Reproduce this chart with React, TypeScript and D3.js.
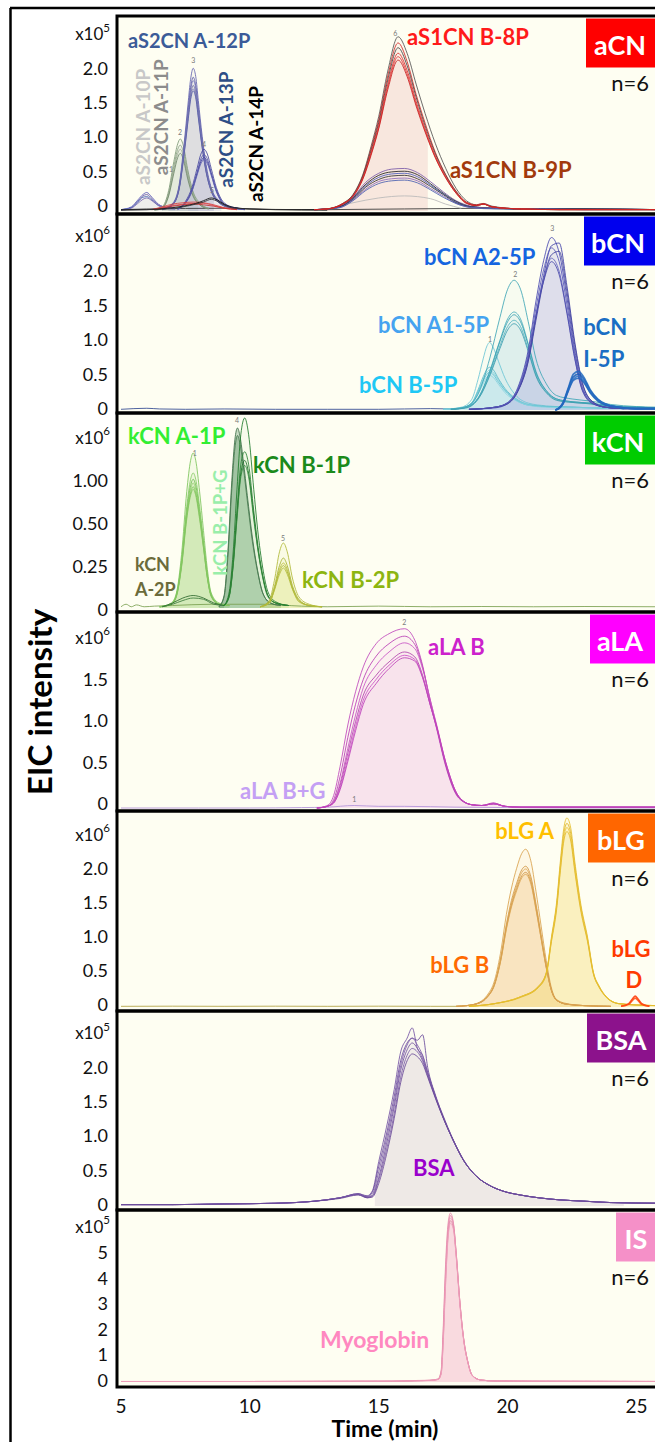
import React from 'react';
import * as d3 from 'd3';

const WIDTH = 655;
const HEIGHT = 1442;
const PLOT_LEFT = 117;
const PLOT_RIGHT = 660;
const BG = '#fefef2';
const FONT = "Lato, 'Open Sans', sans-serif";

const timeTicks = [5, 10, 15, 20, 25];

/* ---------------- aCN (x10^5) ---------------- */
const aCNTicks = ['0', '0.5', '1.0', '1.5', '2.0'];

const a10Time = [5.0, 5.4, 5.65, 5.85, 6.0, 6.2, 6.45, 6.8, 7.1];
const a10Reps = [
  [0.02, 0.06, 0.16, 0.24, 0.27, 0.2, 0.1, 0.05, 0.04],
  [0.02, 0.05, 0.14, 0.22, 0.24, 0.18, 0.09, 0.05, 0.04],
  [0.02, 0.05, 0.13, 0.2, 0.21, 0.16, 0.08, 0.04, 0.03],
  [0.01, 0.04, 0.11, 0.17, 0.19, 0.15, 0.08, 0.04, 0.03],
];

const a11Time = [6.3, 6.6, 6.85, 7.05, 7.2, 7.3, 7.42, 7.58, 7.78, 8.05, 8.4];
const a11Reps = [
  [0.02, 0.06, 0.3, 0.72, 0.98, 1.05, 0.95, 0.62, 0.3, 0.12, 0.04],
  [0.02, 0.05, 0.26, 0.65, 0.9, 0.96, 0.86, 0.56, 0.27, 0.1, 0.04],
  [0.02, 0.05, 0.24, 0.6, 0.84, 0.9, 0.8, 0.52, 0.25, 0.1, 0.03],
  [0.01, 0.04, 0.22, 0.55, 0.78, 0.84, 0.75, 0.48, 0.23, 0.09, 0.03],
];

const a12Time = [6.6, 7.0, 7.25, 7.45, 7.6, 7.7, 7.8, 7.9, 8.0, 8.15, 8.3, 8.5, 8.8, 9.2, 9.8];
const a12Reps = [
  [0.03, 0.11, 0.37, 0.99, 1.56, 1.92, 2.08, 1.96, 1.61, 1.09, 0.68, 0.34, 0.15, 0.06, 0.03],
  [0.03, 0.1, 0.34, 0.92, 1.46, 1.8, 1.95, 1.83, 1.51, 1.02, 0.63, 0.32, 0.14, 0.06, 0.03],
  [0.03, 0.1, 0.33, 0.9, 1.42, 1.76, 1.9, 1.79, 1.47, 1.0, 0.62, 0.31, 0.13, 0.06, 0.03],
  [0.02, 0.09, 0.32, 0.87, 1.37, 1.69, 1.83, 1.72, 1.42, 0.96, 0.59, 0.3, 0.13, 0.05, 0.03],
  [0.02, 0.09, 0.31, 0.85, 1.33, 1.65, 1.78, 1.67, 1.38, 0.93, 0.58, 0.29, 0.12, 0.05, 0.02],
  [0.02, 0.09, 0.31, 0.83, 1.31, 1.62, 1.75, 1.65, 1.36, 0.92, 0.57, 0.29, 0.12, 0.05, 0.02],
];

const a13Time = [7.2, 7.5, 7.75, 7.95, 8.1, 8.22, 8.35, 8.5, 8.7, 8.95, 9.3, 9.8];
const a13Reps = [
  [0.03, 0.14, 0.34, 0.62, 0.83, 0.9, 0.83, 0.62, 0.34, 0.14, 0.06, 0.03],
  [0.03, 0.12, 0.31, 0.56, 0.76, 0.82, 0.76, 0.56, 0.31, 0.12, 0.05, 0.03],
  [0.03, 0.12, 0.29, 0.54, 0.72, 0.78, 0.72, 0.54, 0.29, 0.12, 0.05, 0.03],
  [0.02, 0.11, 0.28, 0.52, 0.69, 0.75, 0.69, 0.52, 0.28, 0.11, 0.05, 0.02],
];

const a14Time = [5.0, 6.0, 6.8, 7.4, 7.9, 8.2, 8.5, 8.75, 9.0, 9.4, 10.0, 11.0, 13.0];
const a14Reps = [
  [0.02, 0.02, 0.04, 0.07, 0.11, 0.15, 0.19, 0.16, 0.1, 0.05, 0.03, 0.02, 0.02],
  [0.01, 0.02, 0.03, 0.06, 0.1, 0.13, 0.17, 0.14, 0.09, 0.04, 0.03, 0.02, 0.01],
];

const aS1LowTime = [6.2, 6.6, 7.0, 7.4, 7.8, 8.2, 8.6, 9.0, 9.5];
const aS1LowReps = [
  [0.02, 0.06, 0.1, 0.12, 0.13, 0.12, 0.09, 0.05, 0.03],
  [0.02, 0.05, 0.08, 0.1, 0.11, 0.11, 0.08, 0.04, 0.02],
  [0.02, 0.04, 0.07, 0.09, 0.1, 0.09, 0.07, 0.04, 0.02],
];

const b8Time = [12.5, 13.0, 13.6, 14.0, 14.4, 14.7, 15.0, 15.35, 15.75, 16.1, 16.45, 16.8, 17.2, 17.6, 18.0, 18.4, 18.8, 19.05, 19.4, 20.5, 22.0, 24.0, 25.9];
const b8Reps = [
  [0.02, 0.03, 0.11, 0.24, 0.55, 0.94, 1.38, 2.04, 2.54, 2.3, 1.85, 1.42, 0.98, 0.62, 0.33, 0.15, 0.09, 0.11, 0.07, 0.03, 0.02, 0.02, 0.02],
  [0.02, 0.03, 0.11, 0.23, 0.53, 0.91, 1.33, 1.97, 2.45, 2.18, 1.7, 1.28, 0.85, 0.53, 0.29, 0.13, 0.09, 0.11, 0.06, 0.03, 0.02, 0.02, 0.02],
  [0.02, 0.03, 0.1, 0.23, 0.52, 0.88, 1.29, 1.91, 2.38, 2.12, 1.66, 1.24, 0.83, 0.52, 0.28, 0.12, 0.08, 0.1, 0.06, 0.03, 0.02, 0.02, 0.02],
  [0.02, 0.03, 0.1, 0.22, 0.5, 0.85, 1.25, 1.85, 2.3, 2.05, 1.6, 1.2, 0.8, 0.5, 0.27, 0.12, 0.08, 0.1, 0.06, 0.03, 0.02, 0.02, 0.02],
  [0.02, 0.03, 0.1, 0.22, 0.49, 0.83, 1.22, 1.81, 2.25, 2.0, 1.56, 1.17, 0.78, 0.49, 0.26, 0.12, 0.08, 0.1, 0.06, 0.03, 0.02, 0.02, 0.02],
  [0.02, 0.03, 0.1, 0.21, 0.48, 0.81, 1.2, 1.77, 2.2, 1.96, 1.53, 1.15, 0.77, 0.48, 0.26, 0.11, 0.08, 0.1, 0.06, 0.03, 0.02, 0.02, 0.02],
];

const b9Time = [12.5, 13.0, 13.5, 14.0, 14.5, 15.0, 15.5, 16.0, 16.5, 17.0, 17.5, 18.0, 18.6, 19.5, 21.0, 23.0, 25.9];
const b9Reps = [
  [0.02, 0.03, 0.07, 0.2, 0.42, 0.55, 0.61, 0.62, 0.56, 0.43, 0.28, 0.15, 0.07, 0.04, 0.03, 0.03, 0.02],
  [0.02, 0.03, 0.06, 0.19, 0.39, 0.52, 0.57, 0.58, 0.53, 0.4, 0.26, 0.14, 0.06, 0.04, 0.03, 0.03, 0.02],
  [0.02, 0.03, 0.06, 0.18, 0.37, 0.49, 0.54, 0.55, 0.5, 0.38, 0.25, 0.13, 0.06, 0.04, 0.03, 0.03, 0.02],
  [0.02, 0.03, 0.06, 0.17, 0.35, 0.46, 0.51, 0.52, 0.47, 0.36, 0.24, 0.12, 0.06, 0.04, 0.03, 0.03, 0.02],
  [0.02, 0.03, 0.05, 0.16, 0.32, 0.43, 0.47, 0.48, 0.44, 0.33, 0.22, 0.11, 0.05, 0.04, 0.03, 0.02, 0.02],
  [0.02, 0.03, 0.05, 0.15, 0.3, 0.4, 0.44, 0.45, 0.41, 0.31, 0.2, 0.11, 0.05, 0.03, 0.03, 0.02, 0.02],
];

const aCNGreyTime = [13.0, 14.0, 15.0, 16.0, 17.0, 17.6, 18.2];
const aCNGreyReps = [[0.03, 0.12, 0.19, 0.22, 0.18, 0.1, 0.04]];

const aCNBaseTime = [5, 6, 9, 10, 12, 13, 19, 20, 22, 25.9];
const aCNBaseReps = [[0.02, 0.03, 0.04, 0.03, 0.02, 0.02, 0.04, 0.03, 0.03, 0.02]];

const aCNLabels: [string, number, number][] = [
  ['aS2CN A-12P', 5.27, 2.38],
  ['aS1CN B-8P', 16.1, 2.42],
  ['aS1CN B-9P', 17.76, 0.48],
];
const aCNVertical: [string, number, number][] = [
  ['aS2CN A-10P', 6.13, 0.38],
  ['aS2CN A-11P', 6.82, 0.52],
  ['aS2CN A-13P', 9.35, 0.34],
  ['aS2CN A-14P', 10.51, 0.13],
];
const aCNPeakNums: [string, number, number][] = [
  ['1', 6.94, 0.57], ['2', 7.29, 1.11], ['3', 7.8, 2.16], ['4', 8.22, 0.93], ['5', 8.53, 0.26], ['6', 15.64, 2.55],
];

/* ---------------- bCN (x10^6) ---------------- */
const bCNTicks = ['0', '0.5', '1.0', '1.5', '2.0'];

const bB5Time = [17.5, 18.2, 18.6, 18.85, 19.05, 19.2, 19.3, 19.45, 19.65, 19.9, 20.3, 20.8, 21.5, 22.5, 23.5, 24.5];
const bB5Reps = [
  [0.01, 0.04, 0.15, 0.44, 0.74, 0.93, 0.98, 0.9, 0.7, 0.46, 0.22, 0.1, 0.06, 0.04, 0.03, 0.02],
  [0.01, 0.03, 0.1, 0.29, 0.48, 0.59, 0.62, 0.58, 0.45, 0.31, 0.17, 0.08, 0.05, 0.04, 0.03, 0.02],
  [0.01, 0.03, 0.1, 0.27, 0.45, 0.55, 0.58, 0.54, 0.43, 0.29, 0.16, 0.08, 0.05, 0.04, 0.03, 0.02],
  [0.01, 0.03, 0.09, 0.26, 0.42, 0.52, 0.55, 0.51, 0.4, 0.28, 0.15, 0.07, 0.05, 0.04, 0.03, 0.02],
  [0.01, 0.02, 0.08, 0.23, 0.38, 0.48, 0.5, 0.47, 0.37, 0.25, 0.14, 0.07, 0.04, 0.03, 0.03, 0.02],
];

const bA1Time = [17.8, 18.4, 18.9, 19.3, 19.7, 20.0, 20.25, 20.5, 20.8, 21.1, 21.5, 21.9, 22.5, 23.2, 24.0, 25.0, 25.9];
const bA1Reps = [
  [0.01, 0.05, 0.27, 0.74, 1.34, 1.75, 1.88, 1.75, 1.28, 0.74, 0.38, 0.21, 0.16, 0.13, 0.08, 0.05, 0.04],
  [0.01, 0.04, 0.2, 0.56, 1.01, 1.32, 1.42, 1.32, 0.96, 0.56, 0.28, 0.16, 0.12, 0.1, 0.06, 0.04, 0.03],
  [0.01, 0.04, 0.2, 0.54, 0.99, 1.28, 1.38, 1.28, 0.94, 0.54, 0.28, 0.16, 0.12, 0.1, 0.06, 0.04, 0.03],
  [0.01, 0.04, 0.19, 0.51, 0.93, 1.21, 1.3, 1.21, 0.88, 0.51, 0.26, 0.15, 0.11, 0.09, 0.06, 0.04, 0.03],
  [0.01, 0.03, 0.18, 0.49, 0.89, 1.16, 1.25, 1.16, 0.85, 0.49, 0.25, 0.14, 0.11, 0.09, 0.05, 0.04, 0.03],
];

const bA2Time = [18.5, 19.5, 20.0, 20.4, 20.8, 21.1, 21.4, 21.7, 22.0, 22.3, 22.6, 22.9, 23.3, 23.8, 24.5, 25.9];
const bA2Reps = [
  [0.01, 0.04, 0.11, 0.33, 0.87, 1.58, 2.17, 2.5, 2.28, 1.63, 0.87, 0.33, 0.11, 0.04, 0.02, 0.02],
  [0.01, 0.04, 0.1, 0.28, 0.72, 1.35, 1.95, 2.38, 2.42, 1.8, 1.0, 0.4, 0.12, 0.04, 0.02, 0.02],
  [0.01, 0.04, 0.1, 0.31, 0.82, 1.48, 2.04, 2.35, 2.15, 1.53, 0.82, 0.31, 0.1, 0.04, 0.02, 0.02],
  [0.01, 0.04, 0.09, 0.27, 0.7, 1.3, 1.88, 2.25, 2.3, 1.72, 0.95, 0.38, 0.12, 0.04, 0.02, 0.02],
  [0.01, 0.04, 0.1, 0.29, 0.77, 1.39, 1.91, 2.2, 2.01, 1.43, 0.77, 0.29, 0.1, 0.04, 0.02, 0.02],
  [0.01, 0.03, 0.09, 0.28, 0.75, 1.36, 1.87, 2.15, 1.96, 1.4, 0.75, 0.28, 0.09, 0.04, 0.02, 0.02],
];

const bI5Time = [21.85, 22.0, 22.15, 22.35, 22.55, 22.75, 22.95, 23.2, 23.5, 23.8, 24.3, 25.0, 25.9];
const bI5Reps = [
  [0.0, 0.03, 0.11, 0.32, 0.52, 0.56, 0.48, 0.3, 0.16, 0.09, 0.04, 0.02, 0.02],
  [0.0, 0.03, 0.1, 0.3, 0.48, 0.52, 0.45, 0.28, 0.15, 0.08, 0.04, 0.02, 0.02],
  [0.0, 0.03, 0.09, 0.28, 0.45, 0.49, 0.42, 0.26, 0.14, 0.08, 0.04, 0.02, 0.02],
  [0.0, 0.02, 0.09, 0.27, 0.43, 0.46, 0.4, 0.25, 0.13, 0.07, 0.04, 0.02, 0.02],
];

const bCNBaseTime = [5, 5.5, 6.0, 6.5, 7.5, 9, 11, 13, 15, 17, 18];
const bCNBaseReps = [[0.01, 0.02, 0.025, 0.015, 0.01, 0.015, 0.01, 0.01, 0.01, 0.02, 0.01]];

const bCNLabels: [string, number, number][] = [
  ['bCN A2-5P', 16.76, 2.1],
  ['bCN A1-5P', 14.97, 1.12],
  ['bCN B-5P', 14.23, 0.25],
  ['bCN', 22.93, 1.09],
  ['I-5P', 22.93, 0.62],
];
const bCNPeakNums: [string, number, number][] = [['1', 19.32, 0.99], ['2', 20.3, 1.93], ['3', 21.73, 2.6]];

/* ---------------- kCN (x10^6) ---------------- */
const kCNTicks = ['0', '0.25', '0.50', '1.00'];

const kA1Time = [6.5, 6.95, 7.15, 7.35, 7.55, 7.7, 7.8, 7.9, 8.05, 8.2, 8.35, 8.5, 8.8, 9.2];
const kA1Reps = [
  [0.01, 0.04, 0.12, 0.43, 0.93, 1.18, 1.24, 1.18, 0.93, 0.62, 0.31, 0.12, 0.04, 0.02],
  [0.01, 0.03, 0.11, 0.38, 0.81, 1.03, 1.08, 1.03, 0.81, 0.54, 0.27, 0.11, 0.03, 0.02],
  [0.01, 0.03, 0.1, 0.36, 0.77, 0.98, 1.03, 0.98, 0.77, 0.52, 0.26, 0.1, 0.03, 0.02],
  [0.01, 0.03, 0.1, 0.35, 0.75, 0.95, 1.0, 0.95, 0.75, 0.5, 0.25, 0.1, 0.03, 0.02],
  [0.01, 0.03, 0.1, 0.34, 0.73, 0.92, 0.97, 0.92, 0.73, 0.49, 0.24, 0.1, 0.03, 0.02],
  [0.01, 0.03, 0.09, 0.33, 0.71, 0.9, 0.95, 0.9, 0.71, 0.48, 0.24, 0.09, 0.03, 0.02],
];

const kLowTime = [6.6, 7.0, 7.4, 7.8, 8.2, 8.6, 9.0];
const kLowReps = [
  [0.01, 0.04, 0.08, 0.1, 0.08, 0.04, 0.02],
  [0.01, 0.03, 0.06, 0.08, 0.07, 0.03, 0.02],
];

const kB1GTime = [8.8, 9.0, 9.15, 9.3, 9.42, 9.52, 9.62, 9.75, 9.9, 10.1, 10.3, 10.5, 10.8, 11.2];
const kB1GReps = [
  [0.01, 0.1, 0.46, 1.02, 1.35, 1.44, 1.37, 1.17, 0.9, 0.56, 0.3, 0.12, 0.04, 0.02],
  [0.01, 0.09, 0.42, 0.96, 1.28, 1.38, 1.31, 1.12, 0.86, 0.53, 0.29, 0.12, 0.04, 0.02],
];

const kB1Time = [9.0, 9.2, 9.35, 9.5, 9.65, 9.8, 9.95, 10.15, 10.3, 10.5, 10.7, 11.0, 11.5];
const kB1Reps = [
  [0.02, 0.13, 0.44, 0.95, 1.39, 1.52, 1.39, 0.95, 0.63, 0.32, 0.13, 0.05, 0.02],
  [0.02, 0.1, 0.36, 0.78, 1.15, 1.25, 1.15, 0.78, 0.52, 0.26, 0.1, 0.04, 0.02],
  [0.02, 0.1, 0.34, 0.74, 1.08, 1.18, 1.08, 0.74, 0.49, 0.25, 0.1, 0.04, 0.02],
  [0.02, 0.09, 0.33, 0.71, 1.05, 1.14, 1.05, 0.71, 0.48, 0.24, 0.09, 0.04, 0.02],
];

const kB2Time = [10.4, 10.75, 10.95, 11.15, 11.3, 11.45, 11.65, 11.9, 12.3, 12.8];
const kB2Reps = [
  [0.01, 0.06, 0.22, 0.45, 0.52, 0.45, 0.24, 0.09, 0.03, 0.01],
  [0.01, 0.05, 0.17, 0.34, 0.4, 0.34, 0.18, 0.07, 0.02, 0.01],
  [0.01, 0.04, 0.15, 0.31, 0.36, 0.31, 0.16, 0.06, 0.02, 0.01],
  [0.01, 0.04, 0.15, 0.29, 0.34, 0.29, 0.16, 0.06, 0.02, 0.01],
  [0.01, 0.04, 0.14, 0.27, 0.32, 0.27, 0.15, 0.05, 0.02, 0.01],
];

const kCNBaseTime = [5.0, 5.2, 5.4, 5.6, 5.9, 6.3, 7.0, 8.5, 10.5, 12.0, 13.0, 15, 17, 19, 21, 23, 25.9];
const kCNBaseReps = [[0.01, 0.03, 0.01, 0.025, 0.01, 0.015, 0.02, 0.03, 0.03, 0.015, 0.01, 0.015, 0.01, 0.012, 0.01, 0.012, 0.01]];

const kCNLabels: [string, number, number][] = [
  ['kCN A-1P', 5.27, 1.31],
  ['kCN B-1P', 10.12, 1.08],
  ['kCN', 5.54, 0.3],
  ['A-2P', 5.54, 0.1],
  ['kCN B-2P', 12.02, 0.16],
];
const kCNVertical: [string, number, number][] = [['kCN B-1P+G', 9.11, 0.26]];
const kCNPeakNums: [string, number, number][] = [['1', 7.86, 1.22], ['4', 9.5, 1.48], ['5', 11.29, 0.54]];

/* ---------------- aLA (x10^6) ---------------- */
const aLATicks = ['0', '0.5', '1.0', '1.5'];

const aLATime = [12.6, 13.0, 13.25, 13.5, 13.8, 14.1, 14.4, 14.9, 15.4, 16.0, 16.4, 16.7, 17.0, 17.25, 17.6, 18.1, 18.6, 19.0, 19.45, 19.9, 20.5, 22, 25.9];
const aLAReps = [
  [0.0, 0.03, 0.15, 0.5, 1.0, 1.4, 1.7, 1.98, 2.1, 2.16, 2.02, 1.72, 1.27, 0.95, 0.5, 0.12, 0.04, 0.03, 0.06, 0.02, 0.01, 0.01, 0.01],
  [0.0, 0.02, 0.1, 0.38, 0.85, 1.25, 1.55, 1.83, 1.98, 2.07, 1.97, 1.7, 1.3, 0.98, 0.52, 0.13, 0.04, 0.03, 0.06, 0.02, 0.01, 0.01, 0.01],
  [0.0, 0.02, 0.08, 0.3, 0.72, 1.12, 1.45, 1.72, 1.88, 1.99, 1.92, 1.68, 1.3, 1.0, 0.55, 0.14, 0.04, 0.03, 0.05, 0.02, 0.01, 0.01, 0.01],
  [0.0, 0.02, 0.07, 0.27, 0.66, 1.04, 1.36, 1.6, 1.76, 1.88, 1.82, 1.6, 1.24, 0.96, 0.52, 0.13, 0.04, 0.03, 0.05, 0.02, 0.01, 0.01, 0.01],
  [0.0, 0.02, 0.06, 0.24, 0.6, 0.98, 1.3, 1.55, 1.72, 1.84, 1.79, 1.58, 1.24, 0.97, 0.54, 0.14, 0.04, 0.03, 0.05, 0.02, 0.01, 0.01, 0.01],
  [0.0, 0.02, 0.06, 0.22, 0.56, 0.93, 1.25, 1.5, 1.68, 1.81, 1.77, 1.57, 1.24, 0.98, 0.55, 0.14, 0.04, 0.03, 0.05, 0.02, 0.01, 0.01, 0.01],
];

const aLAGTime = [5.0, 8.0, 10.0, 12.0, 13.0, 14.05, 15, 16, 18, 20, 22, 25.9];
const aLAGReps = [[0.0, 0.0, 0.0, 0.005, 0.01, 0.03, 0.02, 0.02, 0.01, 0.005, 0.0, 0.0]];

const aLALabels: [string, number, number][] = [['aLA B', 16.91, 1.84], ['aLA B+G', 9.62, 0.11]];
const aLAPeakNums: [string, number, number][] = [['2', 15.99, 2.2], ['1', 14.05, 0.07]];

/* ---------------- bLG (x10^6) ---------------- */
const bLGTicks = ['0', '0.5', '1.0', '1.5', '2.0'];

const lgBTime = [18.0, 18.4, 18.9, 19.2, 19.5, 19.75, 19.95, 20.15, 20.35, 20.55, 20.7, 20.9, 21.1, 21.3, 21.5, 21.7, 21.9, 22.3, 23.0, 24.0];
const lgBReps = [
  [0.01, 0.02, 0.07, 0.17, 0.4, 0.85, 1.36, 1.75, 2.04, 2.26, 2.32, 2.15, 1.7, 1.19, 0.68, 0.28, 0.11, 0.05, 0.02, 0.01],
  [0.01, 0.02, 0.06, 0.15, 0.35, 0.76, 1.21, 1.57, 1.82, 2.02, 2.07, 1.92, 1.52, 1.06, 0.61, 0.25, 0.1, 0.04, 0.02, 0.01],
  [0.01, 0.02, 0.06, 0.15, 0.35, 0.74, 1.19, 1.53, 1.78, 1.98, 2.03, 1.88, 1.49, 1.04, 0.59, 0.25, 0.1, 0.04, 0.02, 0.01],
  [0.01, 0.02, 0.06, 0.14, 0.34, 0.72, 1.16, 1.5, 1.74, 1.93, 1.98, 1.84, 1.45, 1.01, 0.58, 0.24, 0.1, 0.04, 0.02, 0.01],
  [0.01, 0.02, 0.06, 0.14, 0.33, 0.71, 1.14, 1.47, 1.71, 1.9, 1.95, 1.81, 1.43, 1.0, 0.57, 0.24, 0.1, 0.04, 0.02, 0.01],
];

const lgATime = [18.5, 19.5, 20.5, 21.2, 21.5, 21.7, 21.9, 22.05, 22.18, 22.3, 22.45, 22.6, 22.85, 23.1, 23.33, 23.55, 23.83, 24.3, 25.0, 25.9];
const lgAReps = [
  [0.01, 0.05, 0.15, 0.31, 0.51, 1.03, 1.54, 2.16, 2.63, 2.78, 2.63, 2.16, 1.49, 1.03, 0.51, 0.31, 0.15, 0.05, 0.03, 0.02],
  [0.01, 0.05, 0.15, 0.3, 0.5, 1.0, 1.5, 2.1, 2.55, 2.7, 2.55, 2.1, 1.45, 1.0, 0.5, 0.3, 0.15, 0.05, 0.03, 0.02],
  [0.01, 0.05, 0.15, 0.29, 0.49, 0.98, 1.47, 2.05, 2.49, 2.64, 2.49, 2.05, 1.42, 0.98, 0.49, 0.29, 0.15, 0.05, 0.03, 0.02],
  [0.01, 0.05, 0.14, 0.29, 0.48, 0.96, 1.43, 2.01, 2.44, 2.58, 2.44, 2.01, 1.39, 0.96, 0.48, 0.29, 0.14, 0.05, 0.03, 0.02],
];

const lgDTime = [24.4, 24.7, 24.85, 24.95, 25.05, 25.2, 25.5];
const lgDReps = [
  [0.01, 0.05, 0.12, 0.16, 0.12, 0.05, 0.01],
  [0.01, 0.04, 0.1, 0.13, 0.1, 0.04, 0.01],
];

const bLGBaseTime = [5, 7, 9, 11, 13, 15, 17, 18];
const bLGBaseReps = [[0.01, 0.012, 0.01, 0.012, 0.01, 0.012, 0.01, 0.01]];

const bLGLabels: [string, number, number][] = [
  ['bLG A', 19.52, 2.47],
  ['bLG B', 17.0, 0.5],
  ['bLG', 24.03, 0.74],
];
const bLGCentered: [string, number, number][] = [['D', 24.9, 0.28]];

/* ---------------- BSA (x10^5) ---------------- */
const BSATicks = ['0', '0.5', '1.0', '1.5', '2.0'];

const bsaTime = [5.0, 7.0, 9.0, 11.0, 12.5, 13.5, 14.2, 14.55, 14.75, 15.0, 15.3, 15.6, 15.85, 16.1, 16.3, 16.5, 16.7, 16.9, 17.2, 17.55, 17.9, 18.3, 18.8, 19.3, 19.8, 20.5, 21.2, 22.0, 23.0, 24.0, 25.9];
const bsaReps = [
  [0.02, 0.02, 0.03, 0.04, 0.07, 0.12, 0.18, 0.15, 0.22, 0.65, 1.15, 1.7, 2.25, 2.45, 2.6, 2.3, 2.2, 1.95, 1.6, 1.25, 0.95, 0.66, 0.43, 0.3, 0.22, 0.16, 0.12, 0.09, 0.07, 0.05, 0.04],
  [0.02, 0.02, 0.03, 0.04, 0.07, 0.12, 0.18, 0.14, 0.2, 0.58, 1.05, 1.6, 2.12, 2.38, 2.45, 2.42, 2.5, 2.02, 1.62, 1.27, 0.96, 0.67, 0.43, 0.3, 0.22, 0.16, 0.12, 0.09, 0.07, 0.05, 0.04],
  [0.02, 0.02, 0.03, 0.04, 0.07, 0.12, 0.17, 0.13, 0.17, 0.5, 0.98, 1.52, 2.05, 2.35, 2.45, 2.35, 2.2, 1.95, 1.6, 1.25, 0.95, 0.66, 0.43, 0.3, 0.22, 0.16, 0.12, 0.09, 0.07, 0.05, 0.04],
  [0.02, 0.02, 0.03, 0.04, 0.07, 0.12, 0.17, 0.13, 0.15, 0.42, 0.9, 1.45, 1.98, 2.28, 2.38, 2.3, 2.15, 1.92, 1.59, 1.25, 0.95, 0.66, 0.43, 0.3, 0.22, 0.16, 0.12, 0.09, 0.07, 0.05, 0.04],
  [0.02, 0.02, 0.03, 0.04, 0.07, 0.12, 0.17, 0.12, 0.14, 0.38, 0.82, 1.35, 1.88, 2.2, 2.3, 2.25, 2.12, 1.9, 1.58, 1.24, 0.95, 0.66, 0.43, 0.3, 0.22, 0.16, 0.12, 0.09, 0.07, 0.05, 0.04],
  [0.02, 0.02, 0.03, 0.04, 0.07, 0.11, 0.16, 0.12, 0.13, 0.33, 0.75, 1.28, 1.8, 2.12, 2.22, 2.18, 2.08, 1.88, 1.57, 1.24, 0.95, 0.66, 0.43, 0.3, 0.22, 0.16, 0.12, 0.09, 0.07, 0.05, 0.04],
];

const BSALabels: [string, number, number][] = [['BSA', 16.33, 0.44]];

/* ---------------- IS (x10^5) ---------------- */
const ISTicks = ['0', '1', '2', '3', '4', '5'];

const myoTime = [5.0, 10.0, 15.5, 16.5, 17.0, 17.3, 17.42, 17.5, 17.58, 17.68, 17.78, 17.9, 18.0, 18.15, 18.3, 18.45, 18.63, 18.95, 19.5, 21.0, 25.9];
const myoReps = [
  [0.02, 0.02, 0.03, 0.06, 0.07, 0.12, 0.45, 2.1, 4.3, 6.1, 6.6, 6.2, 5.1, 3.1, 1.65, 0.82, 0.26, 0.08, 0.04, 0.03, 0.02],
  [0.02, 0.02, 0.03, 0.05, 0.07, 0.11, 0.4, 1.9, 4.0, 5.9, 6.5, 6.15, 5.1, 3.1, 1.65, 0.82, 0.26, 0.08, 0.04, 0.03, 0.02],
  [0.02, 0.02, 0.03, 0.05, 0.06, 0.1, 0.35, 1.7, 3.8, 5.7, 6.4, 6.1, 5.05, 3.1, 1.65, 0.8, 0.25, 0.08, 0.04, 0.03, 0.02],
  [0.02, 0.02, 0.03, 0.05, 0.06, 0.1, 0.32, 1.6, 3.6, 5.6, 6.3, 6.0, 5.0, 3.05, 1.6, 0.8, 0.25, 0.08, 0.04, 0.03, 0.02],
  [0.02, 0.02, 0.03, 0.05, 0.06, 0.1, 0.3, 1.5, 3.5, 5.5, 6.2, 5.95, 4.95, 3.0, 1.6, 0.78, 0.25, 0.08, 0.04, 0.03, 0.02],
];

const ISLabels: [string, number, number][] = [['Myoglobin', 12.72, 1.33]];

/* ---------------- text styling ---------------- */
const labelStyle: Record<string, { color: string; size: number }> = {
  'aS2CN A-12P': { color: '#3b5b98', size: 20 },
  'aS1CN B-8P': { color: '#ff1a1a', size: 22 },
  'aS1CN B-9P': { color: '#a23a0c', size: 22 },
  'aS2CN A-10P': { color: '#c8c8c8', size: 19 },
  'aS2CN A-11P': { color: '#8c8c8c', size: 19 },
  'aS2CN A-13P': { color: '#2d4e86', size: 19 },
  'aS2CN A-14P': { color: '#000000', size: 19 },
  'bCN A2-5P': { color: '#1565e0', size: 22 },
  'bCN A1-5P': { color: '#45a3f0', size: 22 },
  'bCN B-5P': { color: '#1ec8f5', size: 22 },
  'bCN': { color: '#1a6ec4', size: 22 },
  'I-5P': { color: '#1a6ec4', size: 22 },
  'kCN A-1P': { color: '#33ee33', size: 22 },
  'kCN B-1P': { color: '#1b8a1b', size: 22 },
  'kCN B-1P+G': { color: '#99eeaa', size: 18.5 },
  'kCN': { color: '#6b6b3b', size: 18 },
  'A-2P': { color: '#6b6b3b', size: 18 },
  'kCN B-2P': { color: '#8db510', size: 22 },
  'aLA B': { color: '#cc22cc', size: 22 },
  'aLA B+G': { color: '#c4a0f4', size: 22 },
  'bLG A': { color: '#ffbf00', size: 22 },
  'bLG B': { color: '#ff6a00', size: 22 },
  'bLG': { color: '#ff3a00', size: 22 },
  'D': { color: '#ff3a00', size: 22 },
  'BSA': { color: '#9900cc', size: 22 },
  'Myoglobin': { color: '#ff88c0', size: 23 },
};

type Species = {
  times: number[];
  reps: number[][];
  strokes: string[];
  width?: number;
  fill?: string;
  fillOpacity?: number;
  window?: [number, number];
};

type PanelCfg = {
  top: number;
  bottom: number;
  base: number;
  unit: number;
  label0: number;
  step: number;
  ticks: string[];
  exp: string;
  box: string;
  boxColor: string;
  boxX: number;
  boxTextX: number;
  species: Species[];
  labels: [string, number, number][];
  vertical?: [string, number, number][];
  centered?: [string, number, number][];
  nums?: [string, number, number][];
};

const xScale = d3.scaleLinear().domain([5, 25]).range([121, 636.5]);

const panels: PanelCfg[] = [
  {
    top: 16, bottom: 214, base: 211, unit: 68.6, label0: 205, step: 34.3,
    ticks: aCNTicks, exp: '5', box: 'aCN', boxColor: '#ff0000', boxX: 586, boxTextX: 620,
    species: [
      { times: aCNBaseTime, reps: aCNBaseReps, strokes: ['#333333'] },
      { times: aCNGreyTime, reps: aCNGreyReps, strokes: ['#b8b8b8'] },
      { times: a10Time, reps: a10Reps, strokes: ['#5a5ab8', '#6a5aa8', '#4a6ab8', '#7a6ab0'], fill: '#b8b8e0', fillOpacity: 0.05 },
      { times: a11Time, reps: a11Reps, strokes: ['#7f9a78', '#8aa282', '#9aa890', '#708a6a'], fill: '#a8c0a0', fillOpacity: 0.08, window: [6.6, 8.0] },
      { times: a12Time, reps: a12Reps, strokes: ['#6464b0', '#5a5aa8', '#7070b8', '#6a6aa0', '#8080b8', '#5a60a8'], fill: '#b0b0c8', fillOpacity: 0.07, window: [6.85, 8.6] },
      { times: a13Time, reps: a13Reps, strokes: ['#4a4aa0', '#5252a8', '#4040a0', '#6060b0'], fill: '#b0b0d8', fillOpacity: 0.06, window: [7.6, 8.9] },
      { times: aS1LowTime, reps: aS1LowReps, strokes: ['#d84040', '#e05050', '#c83030'] },
      { times: a14Time, reps: a14Reps, strokes: ['#111111', '#333333'] },
      { times: b9Time, reps: b9Reps, strokes: ['#7a5aa8', '#222222', '#4a5ab8', '#333333', '#8a6ab8', '#4a60b0'] },
      { times: b8Time, reps: b8Reps, strokes: ['#555555', '#cc2a2a', '#444444', '#d83030', '#e03a3a', '#c82020'], fill: '#f0a8a8', fillOpacity: 0.05, window: [12.8, 16.9] },
    ],
    labels: aCNLabels, vertical: aCNVertical, nums: aCNPeakNums,
  },
  {
    top: 214, bottom: 413, base: 410, unit: 69, label0: 408, step: 34.5,
    ticks: bCNTicks, exp: '6', box: 'bCN', boxColor: '#0000ee', boxX: 584, boxTextX: 618,
    species: [
      { times: bCNBaseTime, reps: bCNBaseReps, strokes: ['#304890'] },
      { times: bB5Time, reps: bB5Reps, strokes: ['#6cc6d6', '#5ab8c8', '#7ad0dc', '#62bfd0', '#88d4e0'], fill: '#a8e0ea', fillOpacity: 0.07 },
      { times: bA1Time, reps: bA1Reps, strokes: ['#3fa6b6', '#48acbc', '#36a0b0', '#52b2c0', '#3a9cae'], fill: '#9cd6dc', fillOpacity: 0.07 },
      { times: bA2Time, reps: bA2Reps, strokes: ['#4a4ab0', '#3c3ca6', '#5656b8', '#42429e', '#6060bc', '#4848aa'], fill: '#b0b0e4', fillOpacity: 0.07 },
      { times: bI5Time, reps: bI5Reps, strokes: ['#2068c0', '#1a60b8', '#2a72c8', '#2266bc'], width: 1.6 },
    ],
    labels: bCNLabels, nums: bCNPeakNums,
  },
  {
    top: 413, bottom: 612, base: 608, unit: 125, label0: 609, step: 43,
    ticks: kCNTicks, exp: '6', box: 'kCN', boxColor: '#00cc00', boxX: 585, boxTextX: 618,
    species: [
      { times: kCNBaseTime, reps: kCNBaseReps, strokes: ['#7aa050'] },
      { times: kA1Time, reps: kA1Reps, strokes: ['#7cc45c', '#88cc66', '#70bc52', '#94d070', '#7ac858', '#86c462'], fill: '#a4d884', fillOpacity: 0.1 },
      { times: kLowTime, reps: kLowReps, strokes: ['#2f6a2f', '#3a7a3a'] },
      { times: kB1GTime, reps: kB1GReps, strokes: ['#3c6e46', '#487a50'], fill: '#4a8a56', fillOpacity: 0.3 },
      { times: kB1Time, reps: kB1Reps, strokes: ['#1f7a2a', '#2a8434', '#1a7024', '#30883a'], fill: '#c4e4ba', fillOpacity: 0.12 },
      { times: kB2Time, reps: kB2Reps, strokes: ['#b0b838', '#a4b030', '#bcc040', '#a8b434', '#b4bc3c'], fill: '#dce27a', fillOpacity: 0.1 },
    ],
    labels: kCNLabels, vertical: kCNVertical, nums: kCNPeakNums,
  },
  {
    top: 612, bottom: 811, base: 808, unit: 83, label0: 803, step: 41.5,
    ticks: aLATicks, exp: '6', box: 'aLA', boxColor: '#ff00ff', boxX: 590, boxTextX: 620,
    species: [
      { times: aLAGTime, reps: aLAGReps, strokes: ['#b090d8'] },
      { times: aLATime, reps: aLAReps, strokes: ['#c048bc', '#b83cb4', '#c854c4', '#b044ac', '#cc50c8', '#bc40b8'], fill: '#f0bcea', fillOpacity: 0.08 },
    ],
    labels: aLALabels, nums: aLAPeakNums,
  },
  {
    top: 811, bottom: 1011, base: 1007, unit: 68, label0: 1004, step: 34,
    ticks: bLGTicks, exp: '6', box: 'bLG', boxColor: '#ff6600', boxX: 588, boxTextX: 621,
    species: [
      { times: bLGBaseTime, reps: bLGBaseReps, strokes: ['#b0a040'] },
      { times: lgBTime, reps: lgBReps, strokes: ['#d9a24e', '#d09848', '#e0aa58', '#cc9444', '#dca652'], fill: '#f2c480', fillOpacity: 0.1 },
      { times: lgATime, reps: lgAReps, strokes: ['#e6bf2e', '#dcb428', '#eec838', '#e2ba2c'], fill: '#f5de6a', fillOpacity: 0.11 },
      { times: lgDTime, reps: lgDReps, strokes: ['#ff3300', '#ff4a10'], width: 1.6 },
    ],
    labels: bLGLabels, centered: bLGCentered,
  },
  {
    top: 1011, bottom: 1210, base: 1206, unit: 68.5, label0: 1204, step: 34.3,
    ticks: BSATicks, exp: '5', box: 'BSA', boxColor: '#8c128c', boxX: 587, boxTextX: 621,
    species: [
      { times: bsaTime, reps: bsaReps, strokes: ['#7454a4', '#6a4a9c', '#7e5eac', '#70509e', '#7a5aa8', '#684898'], fill: '#d4cade', fillOpacity: 0.08, window: [14.85, 24.5] },
    ],
    labels: BSALabels,
  },
  {
    top: 1210, bottom: 1387, base: 1382, unit: 25.6, label0: 1380, step: 25.6,
    ticks: ISTicks, exp: '5', box: 'IS', boxColor: '#f590c8', boxX: 616, boxTextX: 636,
    species: [
      { times: myoTime, reps: myoReps, strokes: ['#e890b0', '#e488aa', '#ec98b8', '#e08ca8', '#f0a0bc'], fill: '#f3b4cc', fillOpacity: 0.12 },
    ],
    labels: ISLabels,
  },
];

function Panel({ cfg, idx }: { cfg: PanelCfg; idx: number }) {
  const { top, bottom, base, unit, label0, step, ticks, exp } = cfg;
  const y = d3.scaleLinear().domain([0, 1]).range([base, base - unit]);
  const tickPos = d3
    .scalePoint<string>()
    .domain([...ticks, 'exp'])
    .range([label0, label0 - ticks.length * step]);
  const clipId = `panel-clip-${idx}`;

  const line = d3
    .line<[number, number]>()
    .x((d) => xScale(d[0]))
    .y((d) => y(d[1]))
    .curve(d3.curveMonotoneX);
  const area = d3
    .area<[number, number]>()
    .x((d) => xScale(d[0]))
    .y0(y(0))
    .y1((d) => y(d[1]))
    .curve(d3.curveMonotoneX);

  const seriesPoints = (sp: Species) =>
    sp.reps.map((rep) => sp.times.map((t, i) => [t, rep[i]] as [number, number]));

  return (
    <g>
      <defs>
        <clipPath id={clipId}>
          <rect x={PLOT_LEFT + 1.5} y={top + 1.5} width={PLOT_RIGHT - PLOT_LEFT - 3} height={bottom - top - 3} />
        </clipPath>
        {cfg.species.map((sp, si) =>
          sp.window ? (
            <clipPath id={`${clipId}-w${si}`} key={si}>
              <rect x={xScale(sp.window[0])} y={top} width={xScale(sp.window[1]) - xScale(sp.window[0])} height={bottom - top} />
            </clipPath>
          ) : null
        )}
      </defs>
      <rect x={PLOT_LEFT} y={top} width={PLOT_RIGHT - PLOT_LEFT} height={bottom - top} fill={BG} />
      <g clipPath={`url(#${clipId})`}>
        {cfg.species.map((sp, si) =>
          sp.fill ? (
            <g key={`f${si}`} clipPath={sp.window ? `url(#${clipId}-w${si})` : undefined}>
              {seriesPoints(sp).map((pts, ri) => (
                <path key={ri} d={area(pts) || ''} fill={sp.fill} fillOpacity={sp.fillOpacity ?? 0.1} />
              ))}
            </g>
          ) : null
        )}
        {cfg.species.map((sp, si) => (
          <g key={`l${si}`}>
            {seriesPoints(sp).map((pts, ri) => (
              <path
                key={ri}
                d={line(pts) || ''}
                fill="none"
                stroke={sp.strokes[ri % sp.strokes.length]}
                strokeWidth={sp.width ?? 1}
                strokeOpacity={0.85}
              />
            ))}
          </g>
        ))}
        {(cfg.nums || []).map(([s, t, v], i) => (
          <text key={`n${i}`} x={xScale(t)} y={y(v)} fontSize={7} fill="#7a7a7a" textAnchor="middle" fontFamily={FONT}>
            {s}
          </text>
        ))}
      </g>

      {/* y tick labels */}
      {ticks.map((t) => (
        <text key={t} x={108} y={tickPos(t)} textAnchor="end" dominantBaseline="central" fontSize={18} fontFamily={FONT} fill="#111">
          {t}
        </text>
      ))}
      <text x={110} y={tickPos('exp')} textAnchor="end" dominantBaseline="central" fontSize={17} fontFamily={FONT} fill="#111">
        x10
        <tspan dy={-7} fontSize={11.5}>
          {exp}
        </tspan>
      </text>

      {/* species box and replicate count */}
      <rect x={cfg.boxX} y={top + 2.5} width={PLOT_RIGHT - cfg.boxX} height={49} fill={cfg.boxColor} />
      <text x={cfg.boxTextX} y={top + 39} textAnchor="middle" fontSize={27} fontWeight={700} fontFamily={FONT} fill="#ffffff">
        {cfg.box}
      </text>
      <text x={649} y={top + 75} textAnchor="end" fontSize={22} fontFamily={FONT} fill="#111">
        n=6
      </text>

      {/* peak labels */}
      {cfg.labels.map(([s, t, v]) => (
        <text key={s} x={xScale(t)} y={y(v)} fontSize={labelStyle[s].size} fontWeight={700} fontFamily={FONT} fill={labelStyle[s].color}>
          {s}
        </text>
      ))}
      {(cfg.centered || []).map(([s, t, v]) => (
        <text key={s} x={xScale(t)} y={y(v)} textAnchor="middle" fontSize={labelStyle[s].size} fontWeight={700} fontFamily={FONT} fill={labelStyle[s].color}>
          {s}
        </text>
      ))}
      {(cfg.vertical || []).map(([s, t, v]) => (
        <text
          key={s}
          transform={`translate(${xScale(t)},${y(v)}) rotate(-90)`}
          fontSize={labelStyle[s].size}
          fontWeight={700}
          fontFamily={FONT}
          fill={labelStyle[s].color}
        >
          {s}
        </text>
      ))}
    </g>
  );
}

export default function App() {
  const last = panels[panels.length - 1];
  return (
    <svg
      width={WIDTH}
      height={HEIGHT}
      viewBox={`0 0 ${WIDTH} ${HEIGHT}`}
      style={{ position: 'absolute', left: 0, top: 0, background: '#ffffff' }}
    >
      <rect x={0} y={0} width={WIDTH} height={HEIGHT} fill="#ffffff" />
      {/* outer frame */}
      <line x1={10.5} y1={8} x2={10.5} y2={HEIGHT} stroke="#000" strokeWidth={2.5} />
      <line x1={10} y1={8} x2={WIDTH} y2={8} stroke="#000" strokeWidth={2.5} />

      {panels.map((p, i) => (
        <Panel key={i} cfg={p} idx={i} />
      ))}

      {/* panel borders on top */}
      {panels.map((p, i) => (
        <rect key={`b${i}`} x={PLOT_LEFT} y={p.top} width={PLOT_RIGHT - PLOT_LEFT} height={p.bottom - p.top} fill="none" stroke="#000" strokeWidth={3} />
      ))}

      {/* time axis */}
      {timeTicks.map((t) => (
        <text key={t} x={xScale(t)} y={last.bottom + 18} textAnchor="middle" dominantBaseline="central" fontSize={19} fontFamily={FONT} fill="#111">
          {t}
        </text>
      ))}
      <text x={385} y={1428} textAnchor="middle" dominantBaseline="central" fontSize={23} fontWeight={700} fontFamily={FONT} fill="#000">
        Time (min)
      </text>

      <text transform="translate(52,702) rotate(-90)" textAnchor="middle" fontSize={33} fontWeight={700} fontFamily={FONT} fill="#000">
        EIC intensity
      </text>
    </svg>
  );
}
